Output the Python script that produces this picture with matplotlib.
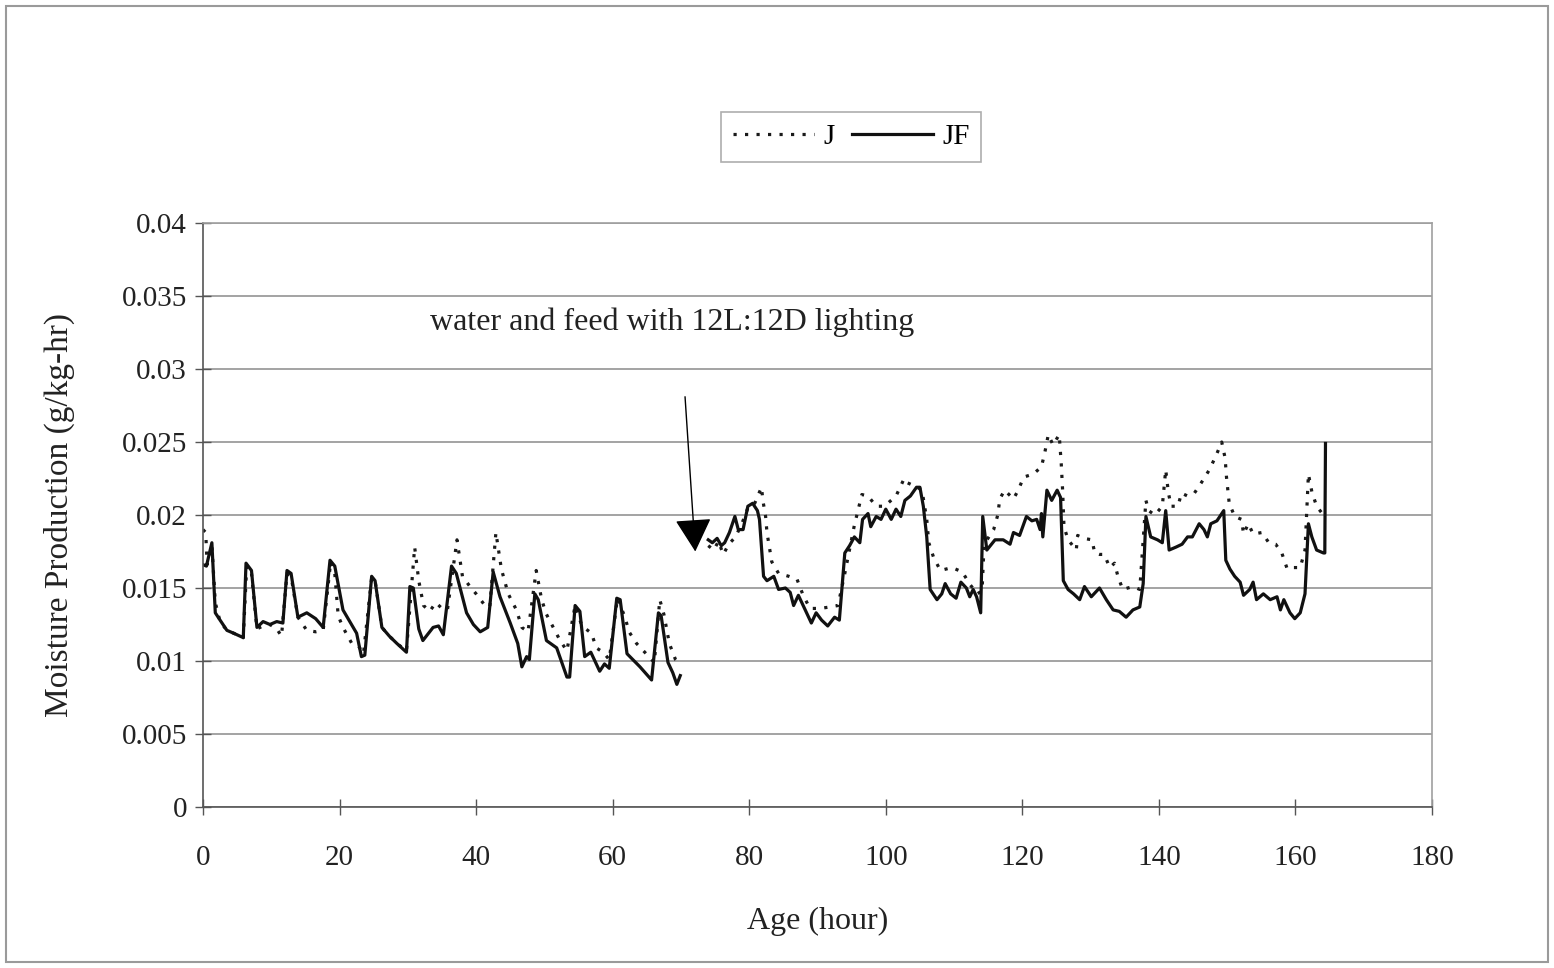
#======================================================================
#   IMPORTS:
#======================================================================

from matplotlib import pyplot as plt
from matplotlib.patches import Rectangle


#======================================================================
#   DATA:
#======================================================================

# first period, hours 0-70
ls_x_jf1 = [0.0, 0.5, 1.3, 1.8, 2.5, 3.5, 4.5, 5.9, 6.3, 7.1, 7.9, 8.8, 9.8, 10.8, 11.7,
            12.3, 12.9, 13.9, 15.2, 16.5, 17.6, 18.6, 19.3, 20.5, 21.5, 22.5, 23.2, 23.7,
            24.7, 25.2, 26.2, 27.3, 28.4, 29.8, 30.3, 30.8, 31.6, 32.2, 33.7, 34.5, 35.2,
            36.4, 37.1, 38.6, 39.6, 40.6, 41.7, 42.5, 43.5, 45.0, 46.1, 46.7, 47.4, 47.8,
            48.6, 49.1, 50.3, 51.8, 53.3, 53.7, 54.5, 55.2, 55.9, 56.8, 58.1, 58.8, 59.5,
            60.6, 61.1, 62.1, 64.0, 65.7, 66.7, 67.1, 68.1, 68.8, 69.4, 69.9]
ls_y_jf1 = [0.0166, 0.0165, 0.0181, 0.0133, 0.0128, 0.0121, 0.0119, 0.0116, 0.0167, 0.0162,
            0.0123, 0.0127, 0.0125, 0.0127, 0.0126, 0.0162, 0.0160, 0.0130, 0.0133, 0.0129,
            0.0123, 0.0169, 0.0165, 0.0135, 0.0127, 0.0119, 0.0103, 0.0104, 0.0158, 0.0155,
            0.0123, 0.0117, 0.0112, 0.0106, 0.0151, 0.0150, 0.0122, 0.0114, 0.0123, 0.0124,
            0.0118, 0.0165, 0.0160, 0.0133, 0.0125, 0.0120, 0.0123, 0.0161, 0.0144, 0.0126,
            0.0112, 0.0096, 0.0103, 0.0101, 0.0146, 0.0142, 0.0114, 0.0109, 0.0089, 0.0089,
            0.0138, 0.0134, 0.0103, 0.0106, 0.0093, 0.0098, 0.0095, 0.0143, 0.0142, 0.0105,
            0.0096, 0.0087, 0.0133, 0.0131, 0.0099, 0.0092, 0.0084, 0.0090]

ls_x_j1 = [0.0, 0.4, 0.6, 1.3, 1.8, 2.5, 3.5, 4.5, 5.9, 6.4, 7.1, 7.9, 8.8, 9.8, 10.8, 11.5,
           12.3, 12.9, 13.9, 15.2, 16.5, 17.6, 18.7, 19.3, 19.8, 20.5, 21.8, 22.8, 23.5,
           24.7, 25.2, 26.2, 27.3, 28.4, 29.8, 31.0, 31.6, 32.3, 33.2, 34.1, 35.0, 35.8,
           37.2, 38.0, 39.1, 40.0, 41.3, 42.0, 42.9, 43.7, 44.7, 45.9, 46.7, 47.6, 48.8,
           49.6, 50.3, 51.3, 52.3, 53.3, 54.5, 55.5, 56.9, 57.6, 58.6, 59.5, 60.7, 61.8,
           62.4, 63.5, 64.9, 66.1, 66.9, 67.5, 68.3, 69.2, 70.0]
ls_y_j1 = [0.0190, 0.0188, 0.0166, 0.0179, 0.0140, 0.0127, 0.0121, 0.0119, 0.0116, 0.0165,
           0.0160, 0.0122, 0.0124, 0.0125, 0.0122, 0.0117, 0.0160, 0.0158, 0.0130, 0.0121,
           0.0120, 0.0121, 0.0168, 0.0160, 0.0131, 0.0123, 0.0112, 0.0110, 0.0105, 0.0157,
           0.0155, 0.0123, 0.0117, 0.0112, 0.0107, 0.0178, 0.0155, 0.0138, 0.0134, 0.0140,
           0.0136, 0.0135, 0.0183, 0.0158, 0.0151, 0.0146, 0.0138, 0.0137, 0.0188, 0.0163,
           0.0146, 0.0135, 0.0123, 0.0120, 0.0162, 0.0142, 0.0132, 0.0123, 0.0114, 0.0107,
           0.0138, 0.0124, 0.0119, 0.0109, 0.0106, 0.0101, 0.0143, 0.0130, 0.0120, 0.0112,
           0.0105, 0.0099, 0.0142, 0.0132, 0.0112, 0.0101, 0.0097]

# second period, water and feed with 12L:12D lighting
ls_x_jf2 = [74.0, 74.6, 75.3, 75.9, 76.4, 77.1, 77.9, 78.4, 79.1, 79.8, 80.5, 81.2, 81.5,
            82.1, 82.6, 83.6, 84.3, 85.3, 86.0, 86.5, 87.2, 87.9, 89.1, 89.8, 90.6, 91.5,
            92.5, 93.2, 94.0, 94.7, 95.4, 96.2, 96.6, 97.4, 97.8, 98.6, 99.3, 100.0, 100.8,
            101.5, 102.2, 102.8, 103.6, 104.5, 105.0, 105.5, 106.0, 106.5, 107.5, 108.2,
            108.7, 109.5, 110.3, 111.0, 111.8, 112.3, 112.8, 113.3, 113.9, 114.2, 114.8,
            116.0, 117.2, 118.2, 118.7, 119.6, 120.6, 121.4, 122.1, 122.6, 122.8, 123.0,
            123.6, 124.3, 125.1, 125.6, 126.0, 126.7, 127.5, 128.4, 129.1, 130.1, 131.3,
            132.3, 133.3, 134.2, 135.2, 136.2, 137.2, 137.7, 138.1, 138.8, 139.8, 140.5,
            141.0, 141.5, 142.5, 143.4, 144.2, 144.9, 145.9, 146.6, 147.1, 147.6, 148.5,
            149.5, 149.8, 150.4, 151.1, 151.9, 152.4, 153.3, 153.8, 154.3, 155.3, 156.3,
            157.3, 157.8, 158.3, 159.2, 159.9, 160.7, 161.4, 161.9, 162.4, 163.1, 164.1,
            164.3, 164.4]
ls_y_jf2 = [0.0183, 0.0181, 0.0184, 0.0179, 0.0181, 0.0188, 0.0199, 0.0190, 0.0190, 0.0206,
            0.0208, 0.0203, 0.0197, 0.0158, 0.0155, 0.0158, 0.0149, 0.0150, 0.0147, 0.0138,
            0.0145, 0.0138, 0.0126, 0.0133, 0.0128, 0.0124, 0.0130, 0.0128, 0.0174, 0.0179,
            0.0185, 0.0181, 0.0197, 0.0201, 0.0192, 0.0199, 0.0197, 0.0204, 0.0197, 0.0204,
            0.0199, 0.0210, 0.0213, 0.0219, 0.0219, 0.0206, 0.0185, 0.0149, 0.0142, 0.0146,
            0.0153, 0.0146, 0.0143, 0.0154, 0.0150, 0.0144, 0.0149, 0.0144, 0.0133, 0.0199,
            0.0176, 0.0183, 0.0183, 0.0180, 0.0188, 0.0186, 0.0199, 0.0196, 0.0197, 0.0190,
            0.0201, 0.0185, 0.0217, 0.0210, 0.0217, 0.0212, 0.0155, 0.0149, 0.0146, 0.0142,
            0.0151, 0.0144, 0.0150, 0.0142, 0.0135, 0.0134, 0.0130, 0.0135, 0.0137, 0.0153,
            0.0199, 0.0185, 0.0183, 0.0181, 0.0203, 0.0176, 0.0178, 0.0180, 0.0185, 0.0185,
            0.0194, 0.0190, 0.0185, 0.0194, 0.0196, 0.0203, 0.0169, 0.0163, 0.0158, 0.0154,
            0.0145, 0.0149, 0.0154, 0.0142, 0.0146, 0.0142, 0.0144, 0.0135, 0.0142, 0.0133,
            0.0129, 0.0133, 0.0146, 0.0194, 0.0185, 0.0176, 0.0174, 0.0174, 0.0249]

ls_x_j2 = [74.0, 74.8, 75.5, 76.2, 77.0, 78.0, 79.0, 79.9, 80.8, 81.8, 82.0, 82.4, 82.6,
           83.3, 84.3, 85.8, 87.0, 87.9, 88.9, 90.4, 91.8, 93.0, 94.0, 95.4, 96.5, 97.4,
           98.6, 99.8, 101.5, 102.7, 103.2, 104.6, 105.3, 106.0, 106.3, 107.0, 108.0,
           109.7, 111.2, 112.4, 113.4, 114.1, 114.4, 115.8, 116.4, 116.7, 117.4, 118.7,
           119.4, 120.2, 121.6, 122.8, 123.3, 123.8, 124.5, 125.4, 125.7, 125.9, 126.1,
           126.7, 127.9, 128.1, 129.0, 130.2, 130.6, 131.3, 132.0, 132.8, 133.5, 134.0,
           134.7, 136.2, 137.2, 138.1, 138.5, 139.4, 140.5, 141.0, 141.4, 141.8, 142.8,
           143.3, 144.2, 145.2, 146.2, 147.4, 148.4, 149.2, 149.7, 149.9, 150.3, 151.1,
           152.1, 152.4, 153.1, 153.8, 155.1, 156.1, 157.1, 158.0, 158.8, 159.7, 160.7,
           161.4, 161.9, 162.4, 163.1, 164.1]
ls_y_j2 = [0.0179, 0.0176, 0.0182, 0.0173, 0.0180, 0.0185, 0.0195, 0.0206, 0.0208, 0.0219,
           0.0210, 0.0199, 0.0188, 0.0168, 0.0160, 0.0158, 0.0156, 0.0145, 0.0136, 0.0136,
           0.0137, 0.0138, 0.0160, 0.0193, 0.0214, 0.0213, 0.0206, 0.0206, 0.0213, 0.0225,
           0.0222, 0.0219, 0.0217, 0.0197, 0.0181, 0.0171, 0.0162, 0.0164, 0.0161, 0.0152,
           0.0146, 0.0148, 0.0180, 0.0190, 0.0200, 0.0211, 0.0217, 0.0211, 0.0217, 0.0226,
           0.0228, 0.0233, 0.0243, 0.0255, 0.0248, 0.0255, 0.0235, 0.0217, 0.0192, 0.0183,
           0.0176, 0.0186, 0.0184, 0.0183, 0.0174, 0.0173, 0.0173, 0.0164, 0.0167, 0.0158,
           0.0149, 0.0151, 0.0149, 0.0210, 0.0203, 0.0200, 0.0206, 0.0231, 0.0215, 0.0206,
           0.0206, 0.0215, 0.0213, 0.0215, 0.0222, 0.0231, 0.0241, 0.0250, 0.0239, 0.0226,
           0.0208, 0.0199, 0.0197, 0.0187, 0.0194, 0.0187, 0.0188, 0.0181, 0.0180, 0.0174,
           0.0163, 0.0164, 0.0164, 0.0176, 0.0228, 0.0216, 0.0206, 0.0200]

ls_xticks = [0, 20, 40, 60, 80, 100, 120, 140, 160, 180]
ls_yticks = [0, 0.005, 0.01, 0.015, 0.02, 0.025, 0.03, 0.035, 0.04]
ls_ytick_labels = ['0', '0.005', '0.01', '0.015', '0.02', '0.025', '0.03', '0.035', '0.04']

s_note = 'water and feed with 12L:12D lighting'


#======================================================================
#   MAIN:
#======================================================================

if (__name__ == '__main__'):

    plt.rcParams['font.family'] = ['Liberation Serif', 'DejaVu Serif']
    fs = 21         # tick labels
    fs_lab = 23     # axis labels, note, legend

    fig = plt.figure(figsize=(15.54, 9.68), dpi=100)
    ax = fig.add_axes([203/1554, 1 - 807/968, 1229/1554, 584/968])

    # outer frame of the chart
    fig.patches.append(Rectangle((6/1554, 6/968), 1542/1554, 956/968, transform=fig.transFigure,
                                 fill=False, edgecolor='#9a9a9a', lw=1.5))

    dots = (0, (1.0, 2.6))
    ax.plot(ls_x_j1, ls_y_j1, color='#1a1a1a', lw=2.3, linestyle=dots, label='J')
    ax.plot(ls_x_j2, ls_y_j2, color='#1a1a1a', lw=2.3, linestyle=dots)
    ax.plot(ls_x_jf1, ls_y_jf1, color='#111111', lw=2.3, label='JF')
    ax.plot(ls_x_jf2, ls_y_jf2, color='#111111', lw=2.3)

    ax.set_xlim(0, 180)
    ax.set_ylim(0, 0.04)
    ax.set_xticks(ls_xticks)
    ax.set_yticks(ls_yticks)
    ax.set_yticklabels(ls_ytick_labels)
    ax.tick_params(direction='inout', length=11, width=1, color='#555555',
                   labelsize=fs, colors='#222222')
    ax.tick_params(axis='x', pad=22)
    ax.tick_params(axis='y', pad=6)

    ax.grid(axis='y', color='#8a8a8a', lw=1.1)
    ax.set_axisbelow(True)
    for s in ['left', 'bottom']:
        ax.spines[s].set_color('#555555')
        ax.spines[s].set_linewidth(1.2)
    for s in ['top', 'right']:
        ax.spines[s].set_color('#a0a0a0')
        ax.spines[s].set_linewidth(1.2)

    ax.set_xlabel('Age (hour)', fontsize=fs_lab, color='#222222')
    ax.set_ylabel('Moisture Production (g/kg-hr)', fontsize=fs_lab + 1, color='#222222')
    ax.xaxis.set_label_coords(0.5, -0.171)
    ax.yaxis.set_label_coords(-0.104, 0.5)

    # note and arrow
    ax.text(33.2, 0.0332, s_note, fontsize=fs_lab, color='#222222', ha='left', va='center')
    ax.annotate('', xy=(72.1, 0.0175), xytext=(70.6, 0.0281),
                arrowprops=dict(arrowstyle='-|>,head_length=1.0,head_width=0.55',
                                mutation_scale=21, lw=1, color='black',
                                shrinkA=0, shrinkB=0))

    leg = fig.legend(loc='center', bbox_to_anchor=(851/1554, 1 - 137/968), ncol=2,
                     fontsize=fs, frameon=True, fancybox=False, handlelength=2.8,
                     handletextpad=0.3, columnspacing=0.6, borderpad=0.4)
    leg.get_frame().set_edgecolor('#9a9a9a')
    leg.get_frame().set_linewidth(1.2)

    fig.savefig('out.png', dpi=100)
